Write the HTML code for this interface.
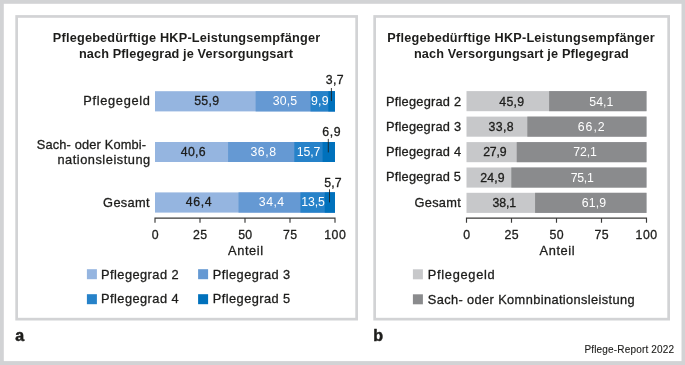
<!DOCTYPE html>
<html><head><meta charset="utf-8"><title>Pflege-Report 2022</title>
<style>
html,body{margin:0;padding:0;background:#fff;}
body{width:685px;height:365px;overflow:hidden;font-family:"Liberation Sans",sans-serif;}
svg{display:block;will-change:transform;font-family:"Liberation Sans",sans-serif;}
text{white-space:pre;stroke-width:0.3px;stroke-linejoin:round;}
</style></head><body>
<svg width="685" height="365" viewBox="0 0 685 365">
<rect x="0" y="0" width="685" height="365" fill="#d2d3d5"/>
<rect x="3.8" y="3.8" width="677.7" height="357.3" fill="#fff"/>
<rect x="15.3" y="15.1" width="342.70" height="305.40" fill="#d2d3d5"/>
<rect x="18.0" y="17.8" width="337.30" height="300.00" fill="#fff"/>
<rect x="373.3" y="15.1" width="296.70" height="305.40" fill="#d2d3d5"/>
<rect x="376.0" y="17.8" width="291.30" height="300.00" fill="#fff"/>
<rect x="155.00" y="91.2" width="180.00" height="20.2" fill="#95b5e0"/>
<rect x="255.62" y="91.2" width="79.38" height="20.2" fill="#6599d3"/>
<rect x="310.52" y="91.2" width="24.48" height="20.2" fill="#2682c9"/>
<rect x="328.34" y="91.2" width="6.66" height="20.2" fill="#0071bc"/>
<rect x="155.00" y="142.0" width="180.00" height="20.0" fill="#95b5e0"/>
<rect x="228.08" y="142.0" width="106.92" height="20.0" fill="#6599d3"/>
<rect x="294.32" y="142.0" width="40.68" height="20.0" fill="#2682c9"/>
<rect x="322.58" y="142.0" width="12.42" height="20.0" fill="#0071bc"/>
<rect x="155.00" y="192.4" width="180.00" height="20.2" fill="#95b5e0"/>
<rect x="238.52" y="192.4" width="96.48" height="20.2" fill="#6599d3"/>
<rect x="300.44" y="192.4" width="34.56" height="20.2" fill="#2682c9"/>
<rect x="324.74" y="192.4" width="10.26" height="20.2" fill="#0071bc"/>
<rect x="466.50" y="91.1" width="180.00" height="20.1" fill="#c7c8ca"/>
<rect x="549.12" y="91.1" width="97.38" height="20.1" fill="#8a8b8d"/>
<rect x="466.50" y="116.6" width="180.00" height="20.1" fill="#c7c8ca"/>
<rect x="527.34" y="116.6" width="119.16" height="20.1" fill="#8a8b8d"/>
<rect x="466.50" y="142.1" width="180.00" height="20.1" fill="#c7c8ca"/>
<rect x="516.72" y="142.1" width="129.78" height="20.1" fill="#8a8b8d"/>
<rect x="466.50" y="167.5" width="180.00" height="20.1" fill="#c7c8ca"/>
<rect x="511.32" y="167.5" width="135.18" height="20.1" fill="#8a8b8d"/>
<rect x="466.50" y="192.8" width="180.00" height="20.1" fill="#c7c8ca"/>
<rect x="535.08" y="192.8" width="111.42" height="20.1" fill="#8a8b8d"/>
<path d="M155 222.85000000000002V218.05H335V222.85000000000002M200 218.05v4.8M245 218.05v4.8M290 218.05v4.8" fill="none" stroke="#3a3a39" stroke-width="1.15"/>
<path d="M466.5 222.85000000000002V218.05H646.5V222.85000000000002M511.5 218.05v4.8M556.5 218.05v4.8M601.5 218.05v4.8" fill="none" stroke="#3a3a39" stroke-width="1.15"/>
<path d="M331.4 88V101" stroke="#1d1d1b" stroke-width="0.85" fill="none"/>
<path d="M328.3 138.9V152.4" stroke="#1d1d1b" stroke-width="0.85" fill="none"/>
<path d="M329.5 189.3V202.4" stroke="#1d1d1b" stroke-width="0.85" fill="none"/>
<rect x="86.9" y="269.2" width="10" height="10" fill="#95b5e0"/>
<rect x="198.1" y="269.2" width="10" height="10" fill="#6599d3"/>
<rect x="86.9" y="294.2" width="10" height="10" fill="#2682c9"/>
<rect x="198.1" y="294.2" width="10" height="10" fill="#0071bc"/>
<rect x="412.9" y="269.3" width="10" height="10" fill="#c7c8ca"/>
<rect x="412.9" y="294.3" width="10" height="10" fill="#8a8b8d"/>
<text x="52.85" y="42.2" font-size="12.7" font-weight="bold" style="stroke-width:0" letter-spacing="0.206" fill="#1d1d1b" stroke="#1d1d1b">Pflegebedürftige HKP-Leistungsempfänger</text>
<text x="78.96" y="57.6" font-size="12.7" font-weight="bold" style="stroke-width:0" letter-spacing="0.121" fill="#1d1d1b" stroke="#1d1d1b">nach Pflegegrad je Versorgungsart</text>
<text x="83.30" y="105.4" font-size="12.8" letter-spacing="0.677" fill="#1d1d1b" stroke="#1d1d1b">Pflegegeld</text>
<text x="36.77" y="149.1" font-size="12.8" letter-spacing="0.166" fill="#1d1d1b" stroke="#1d1d1b">Sach- oder Kombi-</text>
<text x="57.40" y="163.9" font-size="12.8" letter-spacing="0.529" fill="#1d1d1b" stroke="#1d1d1b">nationsleistung</text>
<text x="103.11" y="206.5" font-size="12.8" letter-spacing="0.327" fill="#1d1d1b" stroke="#1d1d1b">Gesamt</text>
<text x="194.16" y="104.7" font-size="12.3" letter-spacing="0.347" fill="#1d1d1b" stroke="#1d1d1b">55,9</text>
<text x="272.63" y="104.7" font-size="12.3" style="stroke-width:0" letter-spacing="0.184" fill="#ffffff" stroke="#ffffff">30,5</text>
<text x="310.92" y="104.7" font-size="12.3" style="stroke-width:0" letter-spacing="0.332" fill="#ffffff" stroke="#ffffff">9,9</text>
<text x="325.68" y="83.6" font-size="12.3" letter-spacing="0.446" fill="#1d1d1b" stroke="#1d1d1b">3,7</text>
<text x="180.77" y="155.7" font-size="12.3" letter-spacing="0.330" fill="#1d1d1b" stroke="#1d1d1b">40,6</text>
<text x="250.43" y="155.7" font-size="12.3" style="stroke-width:0" letter-spacing="0.590" fill="#ffffff" stroke="#ffffff">36,8</text>
<text x="296.86" y="155.7" font-size="12.3" style="stroke-width:0" letter-spacing="-0.159" fill="#ffffff" stroke="#ffffff">15,7</text>
<text x="322.33" y="135.8" font-size="12.3" letter-spacing="0.606" fill="#1d1d1b" stroke="#1d1d1b">6,9</text>
<text x="185.77" y="206.3" font-size="12.3" letter-spacing="0.603" fill="#1d1d1b" stroke="#1d1d1b">46,4</text>
<text x="258.83" y="206.3" font-size="12.3" style="stroke-width:0" letter-spacing="0.465" fill="#ffffff" stroke="#ffffff">34,4</text>
<text x="301.26" y="206.3" font-size="12.3" style="stroke-width:0" letter-spacing="-0.093" fill="#ffffff" stroke="#ffffff">13,5</text>
<text x="324.26" y="186.6" font-size="12.3" letter-spacing="0.158" fill="#1d1d1b" stroke="#1d1d1b">5,7</text>
<text x="228.03" y="255.4" font-size="12.8" letter-spacing="0.614" fill="#1d1d1b" stroke="#1d1d1b">Anteil</text>
<text x="101.00" y="278.7" font-size="12.8" letter-spacing="0.457" fill="#1d1d1b" stroke="#1d1d1b">Pflegegrad 2</text>
<text x="101.00" y="303.4" font-size="12.8" letter-spacing="0.460" fill="#1d1d1b" stroke="#1d1d1b">Pflegegrad 4</text>
<text x="212.80" y="278.7" font-size="12.8" letter-spacing="0.440" fill="#1d1d1b" stroke="#1d1d1b">Pflegegrad 3</text>
<text x="212.80" y="303.4" font-size="12.8" letter-spacing="0.438" fill="#1d1d1b" stroke="#1d1d1b">Pflegegrad 5</text>
<text x="15.28" y="340.5" font-size="16" font-weight="bold" style="stroke-width:0.5px" fill="#1d1d1b" stroke="#1d1d1b">a</text>
<text x="387.35" y="42.2" font-size="12.7" font-weight="bold" style="stroke-width:0" letter-spacing="0.211" fill="#1d1d1b" stroke="#1d1d1b">Pflegebedürftige HKP-Leistungsempfänger</text>
<text x="413.96" y="57.6" font-size="12.7" font-weight="bold" style="stroke-width:0" letter-spacing="0.149" fill="#1d1d1b" stroke="#1d1d1b">nach Versorgungsart je Pflegegrad</text>
<text x="386.00" y="105.6" font-size="12.8" letter-spacing="0.229" fill="#1d1d1b" stroke="#1d1d1b">Pflegegrad 2</text>
<text x="386.00" y="130.9" font-size="12.8" letter-spacing="0.222" fill="#1d1d1b" stroke="#1d1d1b">Pflegegrad 3</text>
<text x="386.00" y="156.0" font-size="12.8" letter-spacing="0.223" fill="#1d1d1b" stroke="#1d1d1b">Pflegegrad 4</text>
<text x="386.00" y="181.3" font-size="12.8" letter-spacing="0.220" fill="#1d1d1b" stroke="#1d1d1b">Pflegegrad 5</text>
<text x="414.51" y="206.5" font-size="12.8" letter-spacing="0.287" fill="#1d1d1b" stroke="#1d1d1b">Gesamt</text>
<text x="499.27" y="105.6" font-size="12.3" letter-spacing="0.311" fill="#1d1d1b" stroke="#1d1d1b">45,9</text>
<text x="589.31" y="105.6" font-size="12.3" style="stroke-width:0" letter-spacing="0.020" fill="#ffffff" stroke="#ffffff">54,1</text>
<text x="488.38" y="130.8" font-size="12.3" letter-spacing="0.457" fill="#1d1d1b" stroke="#1d1d1b">33,8</text>
<text x="577.78" y="130.8" font-size="12.3" style="stroke-width:0" letter-spacing="0.970" fill="#ffffff" stroke="#ffffff">66,2</text>
<text x="483.13" y="156.2" font-size="12.3" letter-spacing="-0.177" fill="#1d1d1b" stroke="#1d1d1b">27,9</text>
<text x="573.17" y="156.2" font-size="12.3" style="stroke-width:0" letter-spacing="-0.067" fill="#ffffff" stroke="#ffffff">72,1</text>
<text x="480.23" y="181.5" font-size="12.3" letter-spacing="0.123" fill="#1d1d1b" stroke="#1d1d1b">24,9</text>
<text x="570.67" y="181.5" font-size="12.3" style="stroke-width:0" letter-spacing="-0.267" fill="#ffffff" stroke="#ffffff">75,1</text>
<text x="492.48" y="206.8" font-size="12.3" letter-spacing="-0.121" fill="#1d1d1b" stroke="#1d1d1b">38,1</text>
<text x="581.78" y="206.8" font-size="12.3" style="stroke-width:0" letter-spacing="0.158" fill="#ffffff" stroke="#ffffff">61,9</text>
<text x="539.52" y="255.4" font-size="12.8" letter-spacing="0.614" fill="#1d1d1b" stroke="#1d1d1b">Anteil</text>
<text x="427.70" y="279.0" font-size="12.8" letter-spacing="0.722" fill="#1d1d1b" stroke="#1d1d1b">Pflegegeld</text>
<text x="427.77" y="303.9" font-size="12.8" letter-spacing="0.387" fill="#1d1d1b" stroke="#1d1d1b">Sach- oder Komnbinationsleistung</text>
<text x="373.20" y="340.6" font-size="16" font-weight="bold" style="stroke-width:0.5px" fill="#1d1d1b" stroke="#1d1d1b">b</text>
<text x="584.44" y="353.2" font-size="10" style="stroke-width:0.12px" letter-spacing="0.169" fill="#1d1d1b" stroke="#1d1d1b">Pflege-Report 2022</text>
<text x="151.80" y="238.5" font-size="12.3" fill="#1d1d1b" stroke="#1d1d1b">0</text>
<text x="463.20" y="238.5" font-size="12.3" fill="#1d1d1b" stroke="#1d1d1b">0</text>
<text x="193.09" y="238.5" font-size="12.3" letter-spacing="0.435" fill="#1d1d1b" stroke="#1d1d1b">25</text>
<text x="504.49" y="238.5" font-size="12.3" letter-spacing="0.435" fill="#1d1d1b" stroke="#1d1d1b">25</text>
<text x="238.22" y="238.5" font-size="12.3" letter-spacing="0.273" fill="#1d1d1b" stroke="#1d1d1b">50</text>
<text x="549.62" y="238.5" font-size="12.3" letter-spacing="0.273" fill="#1d1d1b" stroke="#1d1d1b">50</text>
<text x="283.08" y="238.5" font-size="12.3" letter-spacing="0.447" fill="#1d1d1b" stroke="#1d1d1b">75</text>
<text x="594.48" y="238.5" font-size="12.3" letter-spacing="0.447" fill="#1d1d1b" stroke="#1d1d1b">75</text>
<text x="324.20" y="238.5" font-size="12.3" letter-spacing="0.508" fill="#1d1d1b" stroke="#1d1d1b">100</text>
<text x="635.60" y="238.5" font-size="12.3" letter-spacing="0.508" fill="#1d1d1b" stroke="#1d1d1b">100</text>
</svg>
</body></html>
